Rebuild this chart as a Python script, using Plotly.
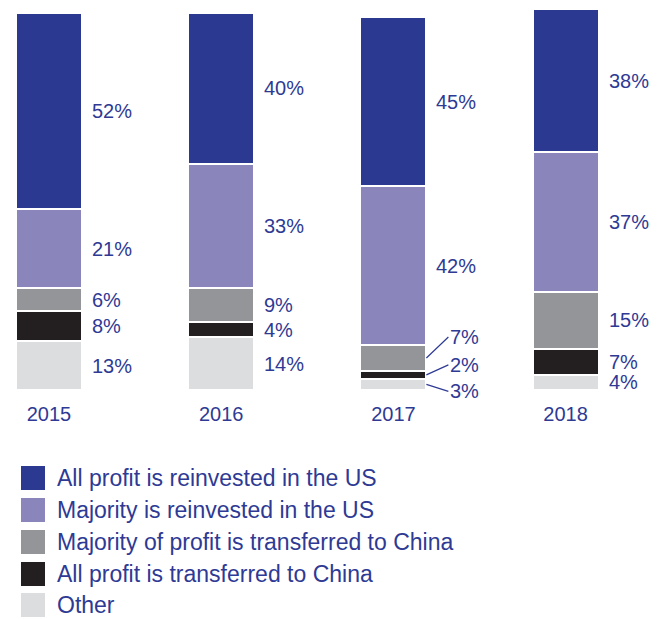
import plotly.graph_objects as go

years = ["2015", "2016", "2017", "2018"]
series_names = [
    "All profit is reinvested in the US",
    "Majority is reinvested in the US",
    "Majority of profit is transferred to China",
    "All profit is transferred to China",
    "Other",
]
all_reinvested = [52, 40, 45, 38]
majority_reinvested = [21, 33, 42, 37]
majority_transferred = [6, 9, 7, 15]
all_transferred = [8, 4, 2, 7]
other = [13, 14, 3, 4]
colors = ["#2b3990", "#8a86bc", "#939598", "#231f20", "#dcdddf"]
text_color = "#2e3a94"
FONT = "Liberation Sans, Arial, sans-serif"

# stacked from bottom: other, all transferred, majority transferred, majority reinvested, all reinvested
stack_order = [4, 3, 2, 1, 0]
values = [all_reinvested, majority_reinvested, majority_transferred, all_transferred, other]

xpos = list(range(len(years)))
bar_w = 0.383

# page body has an 8px margin; figure is sized/placed to compensate
OFF = 8
W = 665 - OFF
H = 619 - OFF
PLOT_BOTTOM = 390 - OFF  # y=0 line in figure pixels

fig = go.Figure()
for idx in stack_order:
    fig.add_trace(go.Bar(
        x=xpos, y=values[idx], name=series_names[idx],
        marker=dict(color=colors[idx], line=dict(color="white", width=2)),
        width=bar_w, showlegend=False, hoverinfo="skip",
    ))

annotations = []
for j, yr in enumerate(years):
    base = 0
    for idx in stack_order:
        v = values[idx][j]
        center = base + v / 2
        base += v
        if yr == "2017" and idx in (2, 3, 4):
            offs = {2: (22, -21), 3: (22, -10), 4: (22, 7)}[idx]
            annotations.append(dict(
                x=xpos[j] + bar_w / 2, y=center, xref="x", yref="y",
                text=f"{v}%", showarrow=True, arrowhead=0, arrowwidth=1.2,
                arrowcolor=text_color, ax=offs[0], ay=offs[1], xanchor="left",
                font=dict(size=20, color=text_color, family=FONT),
                standoff=0, startstandoff=0,
            ))
        else:
            annotations.append(dict(
                x=xpos[j] + bar_w / 2, y=center, xref="x", yref="y",
                text=f"{v}%", showarrow=False, xanchor="left", yanchor="middle",
                xshift=8, font=dict(size=20, color=text_color, family=FONT),
            ))

# legend drawn as swatches + text (paper coords are relative to the plot area)
shapes = []
leg_y = [478, 510, 542, 574, 605]  # reference page pixels


def py(page_y):
    return (PLOT_BOTTOM - (page_y - OFF)) / PLOT_BOTTOM


def px(page_x):
    return (page_x - OFF) / W


for i, name in enumerate(series_names):
    yc = leg_y[i]
    shapes.append(dict(
        type="rect", xref="paper", yref="paper",
        x0=px(21), x1=px(45), y0=py(yc + 12), y1=py(yc - 12),
        fillcolor=colors[i], line=dict(width=0),
    ))
    annotations.append(dict(
        x=px(55), y=py(yc), xref="paper", yref="paper",
        text=name, showarrow=False, xanchor="left", yanchor="middle",
        font=dict(size=23, color=text_color, family=FONT),
    ))

px_per_x = 172.2
first_center = 49 - OFF
x0 = -first_center / px_per_x
x1 = (W - first_center) / px_per_x
y_top = PLOT_BOTTOM / 3.77

fig.update_layout(
    width=W, height=H,
    margin=dict(l=0, r=0, t=0, b=H - PLOT_BOTTOM, pad=0),
    barmode="stack", bargap=0,
    plot_bgcolor="white", paper_bgcolor="white",
    xaxis=dict(range=[x0, x1], tickvals=xpos, ticktext=years, showgrid=False,
               zeroline=False, showline=False, ticks="outside", ticklen=6,
               tickcolor="rgba(0,0,0,0)",
               tickfont=dict(size=20, color=text_color, family=FONT)),
    yaxis=dict(range=[0, y_top], visible=False),
    annotations=annotations, shapes=shapes,
    showlegend=False,
)

fig.write_html("out.html")
